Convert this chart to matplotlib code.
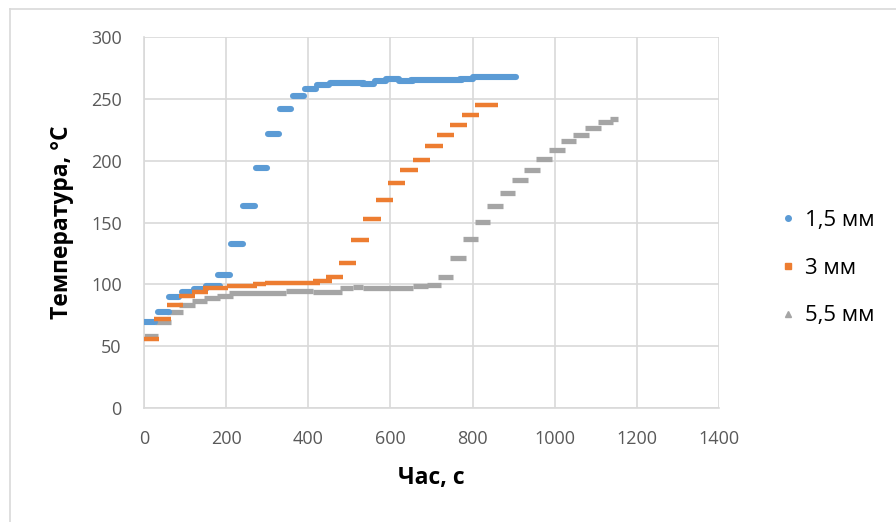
import matplotlib
matplotlib.use("Agg")
import matplotlib.pyplot as plt
from matplotlib.lines import Line2D

plt.rcParams['font.family'] = ['Open Sans', 'DejaVu Sans']

# 1,5 mm: runs of equal readings (start s, end s, temperature)
t15_start = [0, 35, 62, 92, 122, 150, 181, 211, 241, 272, 301, 331, 362, 392, 422,
             452, 531, 562, 590, 620, 650, 770, 800]
t15_end = [28, 61, 85, 120, 150, 185, 209, 240, 270, 299, 329, 359, 389, 418, 450,
           536, 560, 590, 620, 655, 775, 800, 905]
temp15 = [69.4, 77.8, 90.0, 93.7, 95.9, 99.0, 107.5, 133.0, 163.7, 194.2, 221.8, 241.8,
          252.0, 257.7, 261.2, 263.1, 262.0, 264.2, 266.0, 264.2, 265.0, 266.3, 267.4]

# 3 mm
t3_start = [0, 24, 55, 86, 116, 144, 201, 266, 294, 412, 444, 474, 504, 534, 564, 594,
            624, 654, 684, 714, 744, 774, 805]
t3_end = [36, 66, 96, 124, 157, 205, 274, 298, 428, 457, 485, 517, 547, 576, 607, 636,
          666, 696, 727, 756, 786, 816, 861]
temp3 = [55.4, 72.1, 82.9, 90.5, 93.7, 96.7, 98.9, 100.2, 100.8, 102.9, 105.6, 117.2,
         135.9, 152.6, 168.3, 181.8, 192.3, 200.7, 211.8, 220.4, 228.5, 236.6, 244.7]

# 5,5 mm
t55_start = [0, 27, 55, 86, 116, 147, 177, 208, 347, 412, 477, 509, 534, 655, 688, 716,
             746, 777, 807, 835, 866, 895, 925, 955, 985, 1016, 1045, 1075, 1105, 1134]
t55_end = [35, 66, 96, 124, 154, 185, 216, 347, 412, 483, 509, 534, 655, 692, 724, 753,
           783, 813, 843, 874, 904, 934, 964, 994, 1024, 1053, 1084, 1114, 1142, 1154]
temp55 = [58.1, 69.7, 77.3, 83.2, 86.4, 89.1, 90.8, 92.7, 94.8, 93.5, 96.7, 97.5, 96.7,
          98.3, 99.1, 106.2, 121.0, 136.4, 150.5, 163.4, 173.7, 184.2, 192.6, 201.5,
          208.8, 215.6, 220.4, 226.4, 231.0, 233.7]

labels = ["1,5 мм", "3 мм", "5,5 мм"]
colors = ["#5B9BD5", "#ED7D31", "#A5A5A5"]
grid_c = "#D9D9D9"
text_c = "#595959"

fig = plt.figure(figsize=(8.96, 5.22), dpi=100)
ax = fig.add_axes([0.1607, 0.2184, 0.6417, 0.7107])

ax.hlines(temp15, t15_start, t15_end, colors=colors[0], linewidth=4.4,
          capstyle='round', zorder=3)
ax.hlines(temp3, t3_start, t3_end, colors=colors[1], linewidth=3.2,
          capstyle='butt', zorder=3)
ax.hlines(temp55, t55_start, t55_end, colors=colors[2], linewidth=3.8,
          capstyle='butt', zorder=2)

ax.set_xlim(0, 1400)
ax.set_ylim(0, 300)
ax.set_xticks(range(0, 1401, 200))
ax.set_yticks(range(0, 301, 50))
ax.grid(True, color=grid_c, linewidth=1.2)
ax.set_axisbelow(True)
ax.tick_params(length=0, labelsize=13, labelcolor=text_c, pad=16)
for side in ['top', 'right']:
    ax.spines[side].set_visible(False)
for side in ['left', 'bottom']:
    ax.spines[side].set_color(grid_c)
    ax.spines[side].set_linewidth(1.2)

# axis titles placed in figure pixels
fig.text(62 / 896, 1 - 222 / 522, "Температура, °С", rotation=90, fontsize=16.5,
         fontweight='bold', ha='center', va='center')
fig.text(431 / 896, 1 - 478 / 522, "Час, с", fontsize=16.5, fontweight='bold',
         ha='center', va='center')

handles = [
    Line2D([], [], linestyle='none', marker='o', markersize=4, color=colors[0]),
    Line2D([], [], linestyle='none', marker='s', markersize=4.5, color=colors[1]),
    Line2D([], [], linestyle='none', marker='^', markersize=4, color=colors[2]),
]
fig.legend(handles, labels, loc='center left', bbox_to_anchor=(0.860, 0.486),
           frameon=False, fontsize=16, handlelength=0.6, handletextpad=0.45,
           labelspacing=1.2, borderpad=0)

# outer chart-area border
fig.add_artist(Line2D([10 / 896, 10 / 896], [0, 1 - 9 / 522], color=grid_c,
                      linewidth=1.2, transform=fig.transFigure))
fig.add_artist(Line2D([10 / 896, 1], [1 - 9 / 522, 1 - 9 / 522], color=grid_c,
                      linewidth=1.2, transform=fig.transFigure))

fig.savefig("out.png", dpi=100, facecolor='white')
